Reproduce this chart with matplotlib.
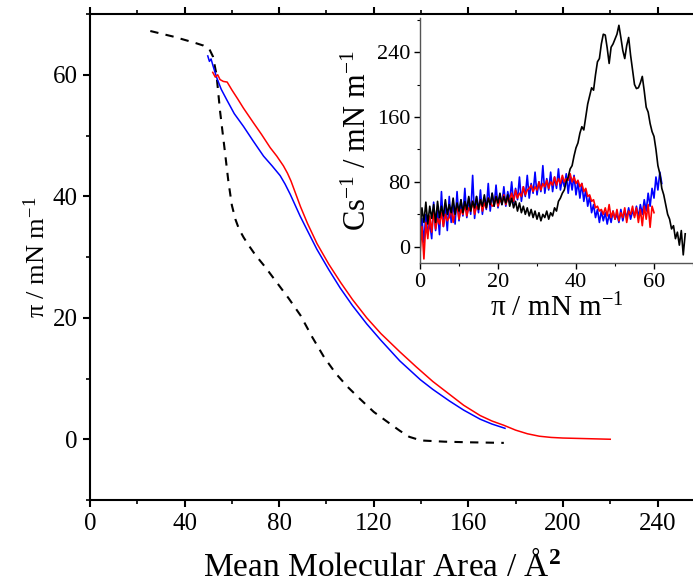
import numpy as np
import matplotlib
matplotlib.use('Agg')
import matplotlib.pyplot as plt
from matplotlib.ticker import MultipleLocator

plt.rcParams['font.family'] = ['Liberation Serif', 'DejaVu Serif']
plt.rcParams['mathtext.fontset'] = 'custom'
plt.rcParams['mathtext.rm'] = 'Liberation Serif'
plt.rcParams['mathtext.it'] = 'Liberation Serif:italic'
plt.rcParams['mathtext.bf'] = 'Liberation Serif:bold'

# --- isotherms (main plot) ---
black_area = [25.5, 35, 44, 48, 50.5, 52, 53.5, 55, 57, 58.5, 60, 61.5, 63, 65, 67.5, 70, 74, 79,
              84, 89, 94, 99, 104, 109, 114, 120, 126, 131, 135, 140, 150, 160, 175]
black_pi = [67.2, 66.3, 65.3, 64.8, 64.2, 63, 60, 54, 47.5, 42.5, 38.5, 36.2, 34.6, 33.2, 31.7,
            30.3, 28.4, 25.8, 23.2, 20.4, 16.8, 13.5, 10.8, 8.6, 6.7, 4.5, 2.8, 1.4, 0.4, -0.2,
            -0.4, -0.5, -0.6]

red_area = [51.9, 53, 54, 55, 56.4, 58, 60, 62.5, 64.9, 69.1, 72.5, 76.2, 79, 81.8, 83.5, 85, 87,
            89, 92, 96, 101, 106, 111, 117, 123, 131, 138, 145, 152, 158, 165, 170, 175, 180,
            185, 190, 195, 200, 210, 220]
red_pi = [60.4, 59.6, 60.0, 59.2, 58.9, 58.8, 57.5, 56, 54.5, 52.1, 50.2, 48, 46.6, 45, 43.8,
          42.5, 40.4, 38.3, 35.5, 32.2, 28.8, 25.8, 23.0, 20.0, 17.4, 14.4, 11.9, 9.5, 7.4, 5.6,
          3.9, 3.0, 2.3, 1.5, 0.9, 0.5, 0.3, 0.2, 0.1, 0.0]

blue_area = [49.8, 50.5, 51.2, 52, 53.6, 55.5, 57.8, 61, 64.9, 69, 73.4, 77, 80.4, 82.5, 84.7,
             86.8, 88.9, 92, 95.9, 101, 105.8, 111, 117, 123, 131, 139.7, 145, 152, 158, 165,
             170, 175.5]
blue_pi = [63.1, 62.2, 62.6, 61.5, 59.5, 57.6, 55.9, 53.6, 51.5, 49.1, 46.6, 45.0, 43.4, 42.0,
           40.3, 38.5, 36.7, 34.3, 31.3, 27.9, 24.9, 22.0, 19.0, 16.3, 12.9, 9.8, 8.2, 6.3, 4.8,
           3.3, 2.5, 1.8]

# --- compressibility modulus (inset), sampled every 0.5 mN/m ---
red_cs = [-10, 25, -15, 30, 10, 38, 18, 45, 22, 35, 28, 42, 25, 40, 32, 36, 48, 30, 44, 50,
          34, 46, 40, 52, 38, 48, 44, 56, 40, 50, 46, 58, 44, 54, 48, 60, 56, 50, 52, 62,
          50, 58, 54, 64, 52, 60, 58, 66, 56, 70, 60, 66, 62, 74, 64, 70, 72, 76, 68, 74,
          70, 80, 70, 78, 74, 82, 72, 80, 76, 86, 76, 84, 78, 88, 80, 84, 82, 90, 80, 86,
          78, 82, 74, 78, 68, 72, 62, 64, 56, 58, 48, 50, 44, 46, 40, 48, 38, 52, 36, 44,
          34, 46, 32, 42, 36, 48, 30, 44, 40, 50, 36, 48, 30, 46, 26, 50, 34, 52, 24, 50, 42]
blue_cs = [10, 35, 5, 40, 15, 30, 10, 55, 20, 45, 15, 68, 25, 50, 20, 62, 30, 55, 28, 68,
           32, 58, 38, 72, 36, 60, 40, 88, 35, 62, 42, 70, 40, 60, 46, 78, 44, 66, 50, 76,
           48, 64, 52, 74, 50, 68, 56, 80, 54, 72, 58, 86, 56, 74, 62, 88, 60, 78, 66, 92,
           64, 80, 68, 100, 66, 84, 70, 92, 68, 86, 72, 96, 70, 84, 74, 90, 66, 86, 70, 88,
           64, 80, 60, 78, 56, 70, 50, 62, 42, 52, 36, 46, 30, 44, 32, 42, 28, 40, 30, 44,
           34, 40, 30, 46, 32, 44, 36, 48, 34, 44, 38, 50, 36, 52, 40, 58, 44, 66, 50, 72,
           60, 86, 70, 92, 78]
black_cs = [22, 48, 30, 55, 28, 50, 35, 52, 30, 56, 36, 50, 38, 58, 40, 52, 42, 60, 40, 54,
            44, 58, 42, 56, 46, 62, 44, 56, 48, 62, 46, 58, 50, 64, 48, 60, 52, 66, 50, 62,
            54, 66, 52, 62, 54, 64, 50, 60, 48, 56, 44, 54, 42, 50, 40, 48, 38, 46, 36, 44,
            34, 42, 32, 40, 36, 44, 34, 42, 38, 48, 44, 56, 60, 66, 70, 80, 86, 96, 100, 112,
            122, 128, 140, 148, 144, 160, 176, 186, 196, 193, 212, 228, 232, 250, 262, 261,
            245, 226, 246, 250, 256, 262, 273, 258, 242, 232, 248, 258, 236, 218, 200, 195,
            196, 202, 210, 192, 172, 166, 152, 142, 136, 120, 100, 90, 72, 64, 52, 40, 34,
            22, 26, 10, 18, 2, 20, -10, 16]

red_cs_pi = np.arange(len(red_cs)) * 0.5
blue_cs_pi = np.arange(len(blue_cs)) * 0.5
black_cs_pi = np.arange(len(black_cs)) * 0.5

fig = plt.figure(figsize=(6.93, 5.85), dpi=100)
ax = fig.add_axes([90/693, 85/585, 603/693, 486/585])

ax.plot(black_area, black_pi, color='black', lw=1.5, ls=(0, (4, 3.5)))
ax.plot(blue_area, blue_pi, color='#0000ff', lw=1.1)
ax.plot(red_area, red_pi, color='#ff0000', lw=1.1)

ax.set_xlim(0, 255)
ax.set_ylim(-10, 70)
ax.xaxis.set_major_locator(MultipleLocator(40))
ax.xaxis.set_minor_locator(MultipleLocator(20))
ax.yaxis.set_major_locator(MultipleLocator(20))
ax.yaxis.set_minor_locator(MultipleLocator(10))
ax.spines['right'].set_visible(False)
for s in ('left', 'bottom', 'top'):
    ax.spines[s].set_linewidth(1.5)
ax.tick_params(which='major', direction='out', length=5, width=1.5, labelsize=18, pad=4)
ax.tick_params(which='minor', direction='out', length=3, width=1.2)
ax.tick_params(axis='x', which='both', top=True)
ax.set_xlabel('Mean Molecular Area / Å$^\\mathbf{2}$', fontsize=24)
ax.set_ylabel('π / mN m$^{-1}$', fontsize=19)
ax.xaxis.set_label_coords(0.484, -0.103)
ax.yaxis.set_label_coords(-0.066, 0.5)

# inset
ins = fig.add_axes([420/693, 322/585, 273/693, 245/585])
ins.plot(blue_cs_pi, blue_cs, color='#0000ff', lw=1.2)
ins.plot(red_cs_pi, red_cs, color='#ff0000', lw=1.2)
ins.plot(black_cs_pi, black_cs, color='black', lw=1.2)
ins.set_xlim(0, 70)
ins.set_ylim(-20, 282)
ins.xaxis.set_major_locator(MultipleLocator(20))
ins.xaxis.set_minor_locator(MultipleLocator(10))
ins.yaxis.set_major_locator(MultipleLocator(80))
ins.yaxis.set_minor_locator(MultipleLocator(40))
ins.spines['top'].set_visible(False)
ins.spines['right'].set_visible(False)
for s in ('left', 'bottom'):
    ins.spines[s].set_linewidth(1.0)
    ins.spines[s].set_color('#555555')
ins.tick_params(which='major', direction='out', length=4, width=1.0, labelsize=16, pad=3)
ins.tick_params(which='minor', direction='out', length=2.5, width=0.8)
ins.set_ylabel('Cs$^{-1}$ / mN m$^{-1}$', fontsize=22)
ins.set_xlabel('π / mN m$^{-1}$', fontsize=21)
ins.yaxis.set_label_coords(-0.172, 0.5)
ins.xaxis.set_label_coords(0.5, -0.125)
ins.patch.set_alpha(0)

fig.savefig('out.png', dpi=100)
